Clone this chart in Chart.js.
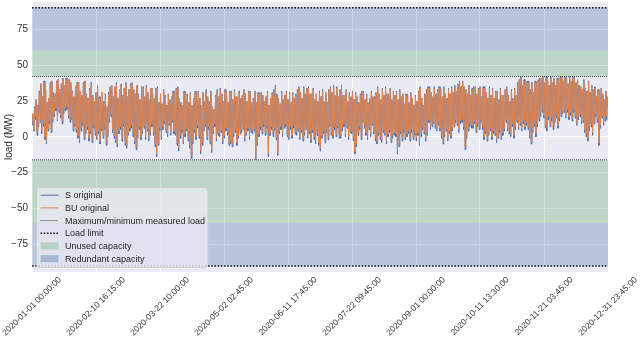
<!DOCTYPE html>
<html>
<head>
<meta charset="utf-8">
<script src="https://cdn.jsdelivr.net/npm/chart.js@4/dist/chart.umd.min.js"></script>
<style>
  body { margin: 0; background: #fff; }
  canvas { display: block; }
</style>
</head>
<body>
<canvas id="grafico" width="640" height="339"></canvas>
<script>
// tick labels of the time axis (evenly spaced over the year, 15 min steps)
const tickLabels = [
  '2020-01-01 00:00:00', '2020-02-10 16:15:00', '2020-03-22 10:00:00',
  '2020-05-02 02:45:00', '2020-06-11 17:45:00', '2020-07-22 09:45:00',
  '2020-09-01 00:00:00', '2020-10-11 13:30:00', '2020-11-21 03:45:00',
  '2020-12-31 23:45:00'
];
const yTicks = [-75, -50, -25, 0, 25, 50, 75];

// daily high / low of the load (MW), one row per week
const buHigh = [
  16, 20, 26, 22, 31, 37, 28,
  38, 33, 24, 27, 37, 39, 31,
  30, 38, 40, 33, 37, 40, 36,
  40, 41, 40, 38, 31, 28, 35,
  37, 38, 32, 29, 37, 39, 30,
  27, 33, 37, 29, 25, 31, 35,
  27, 22, 31, 25, 29, 21, 30,
  34, 36, 28, 35, 37, 27, 33,
  36, 29, 34, 37, 28, 33, 36,
  37, 33, 30, 36, 29, 26, 35,
  34, 28, 35, 31, 26, 34, 29,
  27, 33, 34, 24, 30, 23, 32,
  28, 22, 30, 25, 28, 31, 22,
  33, 34, 27, 24, 22, 31, 26,
  29, 24, 30, 22, 27, 31, 25,
  31, 27, 22, 30, 25, 32, 28,
  25, 31, 21, 19, 28, 32, 28,
  33, 30, 25, 32, 28, 24, 31,
  31, 26, 32, 28, 23, 31, 27,
  29, 32, 30, 25, 31, 32, 24,
  27, 31, 24, 30, 22, 31, 28,
  25, 28, 31, 22, 27, 30, 32,
  35, 30, 27, 23, 31, 26, 29,
  31, 26, 30, 24, 31, 27, 29,
  32, 34, 31, 27, 34, 30, 33,
  34, 30, 28, 33, 26, 30, 25,
  31, 28, 32, 25, 31, 24, 32,
  34, 31, 35, 29, 34, 28, 33,
  35, 29, 27, 32, 25, 30, 28,
  31, 26, 30, 28, 24, 29, 31,
  31, 26, 29, 24, 27, 31, 28,
  27, 31, 34, 30, 26, 33, 29,
  34, 30, 28, 33, 26, 31, 29,
  31, 26, 32, 28, 30, 23, 29,
  28, 24, 30, 27, 22, 28, 25,
  31, 34, 27, 22, 29, 32, 34,
  34, 31, 28, 34, 30, 32, 34,
  33, 28, 34, 30, 27, 33, 30,
  34, 31, 35, 32, 36, 38, 35,
  38, 35, 33, 30, 35, 29, 33,
  34, 35, 30, 33, 35, 28, 34,
  34, 31, 27, 34, 29, 33, 27,
  31, 32, 26, 33, 29, 25, 32,
  34, 29, 25, 32, 27, 33, 29,
  37, 40, 41, 36, 39, 34, 38,
  38, 33, 37, 31, 38, 35, 39,
  40, 41, 42, 38, 41, 39, 36,
  41, 38, 41, 36, 40, 37, 41,
  42, 39, 41, 42, 37, 41, 39,
  41, 42, 38, 40, 36, 35, 33,
  39, 34, 32, 38, 31, 36, 33,
  34, 28, 32, 27, 34, 30, 26,
  31, 28
];
const buLow = [
  10, 5, 14, 3, 8, 12, 4,
  9, 0, -3, 6, 11, 5, 12,
  16, 20, 12, 19, 15, 11, 18,
  20, 21, 15, 12, 14, 6, 9,
  5, 1, -2, 6, 10, 0, 4,
  7, -1, 4, -2, 8, 3, 0,
  4, -3, 6, 1, 7, -4, 2,
  12, 16, 5, 1, -2, -5, 4,
  7, -1, 9, -4, -6, 3, 6,
  8, 2, -3, -7, 1, 7, 0,
  4, 8, 0, 6, -1, 3, 9,
  3, -5, -12, -4, 6, 0, 7,
  11, 5, 2, 10, 3, 12, 4,
  3, -4, -8, 1, 5, -3, 2,
  6, -1, -6, -13, -3, 5, 0,
  8, 1, -10, -4, 6, 9, 0,
  7, -3, -9, 4, 9, -1, 3,
  2, 5, -3, 1, 6, 3, -4,
  -3, -5, 2, 5, -4, 1, 4,
  5, 7, -1, 3, 6, 0, 5,
  4, 6, -15, -4, 2, 7, 4,
  9, 3, 8, -12, 3, 7, 2,
  6, 0, -11, 4, 7, 2, 8,
  9, 2, 0, 7, 1, 8, 4,
  3, 6, 0, 5, -1, 3, 7,
  1, 4, -2, 5, 0, -3, 3,
  -4, -8, 1, 4, -2, 5, 0,
  9, 3, 1, 7, 2, 8, 1,
  1, 6, 9, 2, 8, 0, 5,
  4, -1, -10, -5, 3, 7, 0,
  12, 8, 3, 0, 7, 2, 10,
  4, -1, -3, 3, 0, -2, 5,
  3, -3, 2, 5, -2, 1, 3,
  2, -10, -5, 4, -1, 5, 0,
  2, 4, -1, 5, 0, 3, -1,
  3, -4, 2, 7, 4, -1, 3,
  12, 7, 9, 11, 8, 6, 10,
  6, 1, -3, 2, 6, -1, 4,
  1, 6, 9, 12, 10, 5, 11,
  12, 7, -7, 1, 6, 9, 8,
  8, 11, 5, 9, 7, 12, 7,
  0, 4, -1, 3, 6, 0, 4,
  3, -2, 1, 5, 0, 3, 6,
  12, 6, 4, 2, 9, 1, 7,
  12, 7, 10, 6, 11, 7, 10,
  7, 1, -3, 5, 9, 2, 9,
  13, 16, 19, 15, 8, 6, 14,
  9, 13, 7, 12, 15, 8, 13,
  16, 18, 19, 15, 19, 14, 17,
  13, 19, 15, 10, 14, 16, 11,
  12, 5, 2, -1, 6, 9, 3,
  11, 16, 12, -4, 8, 15, 10,
  13, 14
];
const sHigh = [
  16, 21, 26, 22, 32, 37, 28,
  39, 33, 24, 27, 38, 39, 31,
  30, 39, 40, 33, 37, 41, 36,
  41, 41, 40, 38, 32, 28, 35,
  38, 38, 32, 29, 38, 39, 30,
  27, 34, 38, 29, 25, 31, 36,
  28, 22, 31, 25, 30, 21, 31,
  35, 36, 28, 35, 38, 27, 33,
  37, 29, 34, 38, 28, 33, 37,
  38, 33, 30, 36, 30, 26, 35,
  35, 28, 36, 31, 26, 34, 30,
  27, 34, 35, 24, 30, 23, 33,
  29, 22, 30, 26, 28, 32, 22,
  34, 35, 27, 24, 22, 32, 26,
  30, 24, 31, 22, 27, 32, 25,
  32, 27, 22, 31, 25, 33, 28,
  25, 32, 21, 19, 29, 33, 28,
  34, 30, 25, 33, 28, 24, 32,
  32, 26, 33, 28, 23, 32, 27,
  29, 33, 30, 25, 32, 32, 24,
  27, 32, 24, 31, 22, 31, 29,
  25, 28, 32, 22, 27, 31, 33,
  36, 30, 27, 23, 32, 26, 29,
  32, 26, 31, 24, 31, 27, 30,
  33, 35, 31, 27, 35, 30, 34,
  35, 30, 28, 34, 26, 30, 25,
  32, 28, 33, 25, 31, 24, 33,
  35, 31, 36, 29, 35, 28, 33,
  36, 29, 27, 33, 25, 31, 28,
  32, 26, 31, 28, 24, 30, 32,
  32, 26, 30, 24, 27, 32, 28,
  28, 31, 35, 30, 26, 34, 29,
  35, 30, 28, 34, 26, 32, 29,
  32, 26, 33, 28, 30, 23, 30,
  29, 24, 31, 27, 22, 29, 25,
  32, 35, 27, 22, 30, 33, 35,
  35, 31, 28, 35, 30, 33, 35,
  34, 28, 35, 30, 27, 34, 30,
  35, 31, 36, 32, 37, 39, 35,
  39, 35, 33, 30, 36, 29, 34,
  35, 35, 30, 34, 35, 28, 35,
  35, 31, 27, 35, 29, 34, 27,
  32, 32, 26, 34, 29, 25, 33,
  35, 29, 25, 33, 27, 34, 29,
  38, 40, 42, 36, 40, 34, 39,
  39, 33, 38, 31, 39, 35, 40,
  41, 41, 42, 38, 42, 39, 36,
  42, 38, 41, 36, 41, 37, 42,
  42, 39, 42, 42, 37, 42, 39,
  42, 42, 38, 40, 36, 35, 33,
  40, 34, 32, 39, 31, 36, 33,
  35, 28, 33, 27, 34, 30, 26,
  32, 28
];
const sLow = [
  8, 4, 12, 1, 7, 10, 2,
  7, -2, -5, 4, 9, 3, 10,
  14, 18, 11, 17, 13, 9, 16,
  18, 19, 13, 10, 12, 4, 7,
  3, -1, -4, 4, 8, -2, 2,
  5, -3, 2, -4, 6, 1, -2,
  2, -5, 4, -1, 5, -6, 0,
  10, 14, 3, -1, -4, -7, 2,
  5, -3, 7, -6, -8, 1, 4,
  6, 0, -5, -9, -1, 5, -2,
  2, 6, -2, 4, -3, 1, 7,
  1, -7, -14, -6, 4, -2, 5,
  9, 3, 0, 8, 1, 10, 2,
  1, -6, -10, -1, 3, -5, 0,
  4, -3, -8, -15, -5, 3, -2,
  6, -1, -12, -6, 4, 7, -2,
  5, -5, -11, 2, 7, -3, 1,
  0, 3, -5, -1, 4, 1, -6,
  -5, -7, 0, 3, -6, -1, 2,
  3, 5, -3, 1, 4, -2, 3,
  2, 4, -16, -6, 0, 5, 2,
  7, 1, 6, -14, 1, 5, 0,
  4, -2, -13, 2, 5, 0, 6,
  7, 0, -2, 5, -1, 6, 2,
  1, 4, -2, 3, -3, 1, 5,
  -1, 2, -4, 3, -2, -5, 1,
  -6, -10, -1, 2, -4, 3, -2,
  7, 1, -1, 5, 0, 6, -1,
  -1, 4, 7, 0, 6, -2, 3,
  2, -3, -12, -7, 1, 5, -2,
  10, 6, 1, -2, 5, 0, 8,
  2, -3, -5, 1, -2, -4, 3,
  1, -5, 0, 3, -4, -1, 1,
  0, -12, -7, 2, -3, 3, -2,
  0, 2, -3, 3, -2, 1, -3,
  1, -6, 0, 5, 2, -3, 1,
  10, 5, 7, 9, 6, 4, 8,
  4, -1, -5, 0, 4, -3, 2,
  -1, 4, 7, 10, 8, 3, 9,
  10, 5, -9, -1, 4, 7, 6,
  6, 9, 3, 7, 5, 10, 5,
  -2, 2, -3, 1, 4, -2, 2,
  1, -4, -1, 3, -2, 1, 4,
  10, 4, 2, 0, 7, -1, 5,
  10, 5, 8, 4, 9, 5, 8,
  5, -1, -5, 3, 7, 0, 7,
  11, 14, 17, 13, 6, 4, 12,
  7, 11, 5, 10, 13, 6, 11,
  14, 16, 17, 13, 17, 12, 15,
  11, 17, 13, 8, 12, 14, 9,
  10, 3, 0, -3, 4, 7, 1,
  9, 14, 10, -6, 6, 13, 8,
  11, 12
];

// reference levels (MW)
const measuredLevels = [42, -16];
const limitLevels = [90, -90];
const unusedBands = [[42, 60], [-16, -60]];
const redundantBands = [[60, 90], [-60, -90]];

const xMax = 366 - 1 / 96; // last 15 min sample of the year, in days
const yMin = -94.2, yMax = 94;

const corAzul = '#4C72B0';
const corLaranja = '#DD8452';
const corVerdeBanda = 'rgba(85, 168, 104, 0.3)';
const corAzulBanda = 'rgba(76, 114, 176, 0.3)';

// high and low of every day become a zigzag trace
function serie(altos, baixos) {
  const pts = [];
  for (let d = 0; d < altos.length; d++) {
    pts.push({ x: d + 0.2, y: baixos[d] });
    pts.push({ x: d + 0.65, y: altos[d] });
  }
  return pts;
}
function horizontal(v) {
  return [{ x: 0, y: v }, { x: xMax, y: v }];
}

const datasets = [];
limitLevels.forEach(v => datasets.push({
  data: horizontal(v), borderColor: '#1a1a1a', borderWidth: 1.6,
  borderDash: [1.6, 1.6], pointRadius: 0, order: 0
}));
measuredLevels.forEach(v => datasets.push({
  data: horizontal(v), borderColor: '#444', borderWidth: 1,
  borderDash: [1, 1], pointRadius: 0, order: 0
}));
datasets.push({
  data: serie(buHigh, buLow), borderColor: 'rgba(221, 132, 82, 0.9)',
  borderWidth: 1, pointRadius: 0, order: 1
});
datasets.push({
  data: serie(sHigh, sLow), borderColor: corAzul,
  borderWidth: 1, pointRadius: 0, order: 2
});
unusedBands.forEach(b => datasets.push({
  data: horizontal(b[1]), borderWidth: 0, pointRadius: 0,
  backgroundColor: corVerdeBanda, fill: { value: b[0] }, order: 3
}));
redundantBands.forEach(b => datasets.push({
  data: horizontal(b[1]), borderWidth: 0, pointRadius: 0,
  backgroundColor: corAzulBanda, fill: { value: b[0] }, order: 3
}));

const fonte = '"Liberation Sans", Arial, sans-serif';

// plot background (seaborn darkgrid)
const fundo = {
  id: 'fundo',
  beforeDraw(chart) {
    const a = chart.chartArea, ctx = chart.ctx;
    ctx.save();
    ctx.fillStyle = '#EAEAF2';
    ctx.fillRect(a.left, a.top, a.right - a.left, a.bottom - a.top);
    ctx.restore();
  }
};

// rotated x labels, centred under their tick like matplotlib
const rotulosX = {
  id: 'rotulosX',
  afterDraw(chart) {
    const ctx = chart.ctx, sx = chart.scales.x, a = chart.chartArea;
    const tam = 8.5;
    ctx.save();
    ctx.font = tam + 'px ' + fonte;
    ctx.fillStyle = '#333';
    ctx.textAlign = 'center';
    ctx.textBaseline = 'middle';
    tickLabels.forEach((t, i) => {
      const px = sx.getPixelForValue(i * xMax / (tickLabels.length - 1));
      const w = ctx.measureText(t).width;
      const lado = (w + tam * 1.15) / Math.SQRT2;
      ctx.save();
      ctx.translate(px, a.bottom + 3 + lado / 2);
      ctx.rotate(-Math.PI / 4);
      ctx.fillText(t, 0, 0);
      ctx.restore();
    });
    ctx.restore();
  }
};

// legend inside the axes, lower left
const itensLegenda = [
  { texto: 'S original', tipo: 'linha', cor: corAzul, larg: 1, dash: [] },
  { texto: 'BU original', tipo: 'linha', cor: corLaranja, larg: 1, dash: [] },
  { texto: 'Maximum/minimum measured load', tipo: 'linha', cor: '#444', larg: 1, dash: [1, 1] },
  { texto: 'Load limit', tipo: 'linha', cor: '#1a1a1a', larg: 1.6, dash: [1.6, 1.6] },
  { texto: 'Unused capacity', tipo: 'caixa', cor: 'rgba(85, 168, 104, 0.3)' },
  { texto: 'Redundant capacity', tipo: 'caixa', cor: 'rgba(76, 114, 176, 0.38)' }
];
const legenda = {
  id: 'legenda',
  afterDatasetsDraw(chart) {
    const ctx = chart.ctx;
    const x0 = 36.5, y0 = 187.5, w = 171.5, h = 80;
    ctx.save();
    ctx.beginPath();
    ctx.roundRect(x0, y0, w, h, 3);
    ctx.fillStyle = 'rgba(234, 234, 242, 0.8)';
    ctx.fill();
    ctx.strokeStyle = 'rgba(204, 204, 204, 0.8)';
    ctx.lineWidth = 1;
    ctx.stroke();
    ctx.font = '9px ' + fonte;
    ctx.textBaseline = 'middle';
    itensLegenda.forEach((it, i) => {
      const yc = 195.2 + i * 12.7;
      if (it.tipo === 'linha') {
        ctx.beginPath();
        ctx.setLineDash(it.dash);
        ctx.strokeStyle = it.cor;
        ctx.lineWidth = it.larg;
        ctx.moveTo(40.5, yc);
        ctx.lineTo(58.5, yc);
        ctx.stroke();
        ctx.setLineDash([]);
      } else {
        ctx.fillStyle = it.cor;
        ctx.fillRect(40.5, yc - 3.5, 18, 7);
      }
      ctx.fillStyle = '#262626';
      ctx.fillText(it.texto, 65, yc + 0.5);
    });
    ctx.restore();
  }
};

const canvas = document.getElementById('grafico');
new Chart(canvas.getContext('2d'), {
  type: 'line',
  data: { datasets: datasets },
  options: {
    responsive: false,
    animation: false,
    parsing: false,
    layout: { padding: { top: 2, right: 32, left: 0, bottom: 0 } },
    plugins: { legend: { display: false }, tooltip: { enabled: false } },
    scales: {
      x: {
        type: 'linear', min: 0, max: xMax,
        grid: { color: '#ffffff', lineWidth: 1, drawTicks: false },
        border: { display: false },
        ticks: { display: false },
        afterBuildTicks: s => {
          s.ticks = tickLabels.map((t, i) => ({ value: i * xMax / (tickLabels.length - 1) }));
        },
        afterFit: s => {
          s.height = 67;
          s.paddingLeft = 0; s.paddingRight = 0;
        }
      },
      y: {
        type: 'linear', min: yMin, max: yMax,
        grid: { color: '#ffffff', lineWidth: 1, drawTicks: false },
        border: { display: false },
        afterBuildTicks: s => { s.ticks = yTicks.map(v => ({ value: v })); },
        ticks: {
          color: '#333', padding: 4,
          font: { family: fonte, size: 10 },
          callback: v => (v < 0 ? '\u2212' + Math.abs(v) : String(v))
        },
        title: {
          display: true, text: 'load (MW)', color: '#262626',
          font: { family: fonte, size: 10 }, padding: { top: 3, bottom: 0 }
        },
        afterFit: s => {
          s.width = 32;
          s.paddingTop = 0; s.paddingBottom = 0;
        }
      }
    }
  },
  plugins: [fundo, rotulosX, legenda]
});
</script>
</body>
</html>
